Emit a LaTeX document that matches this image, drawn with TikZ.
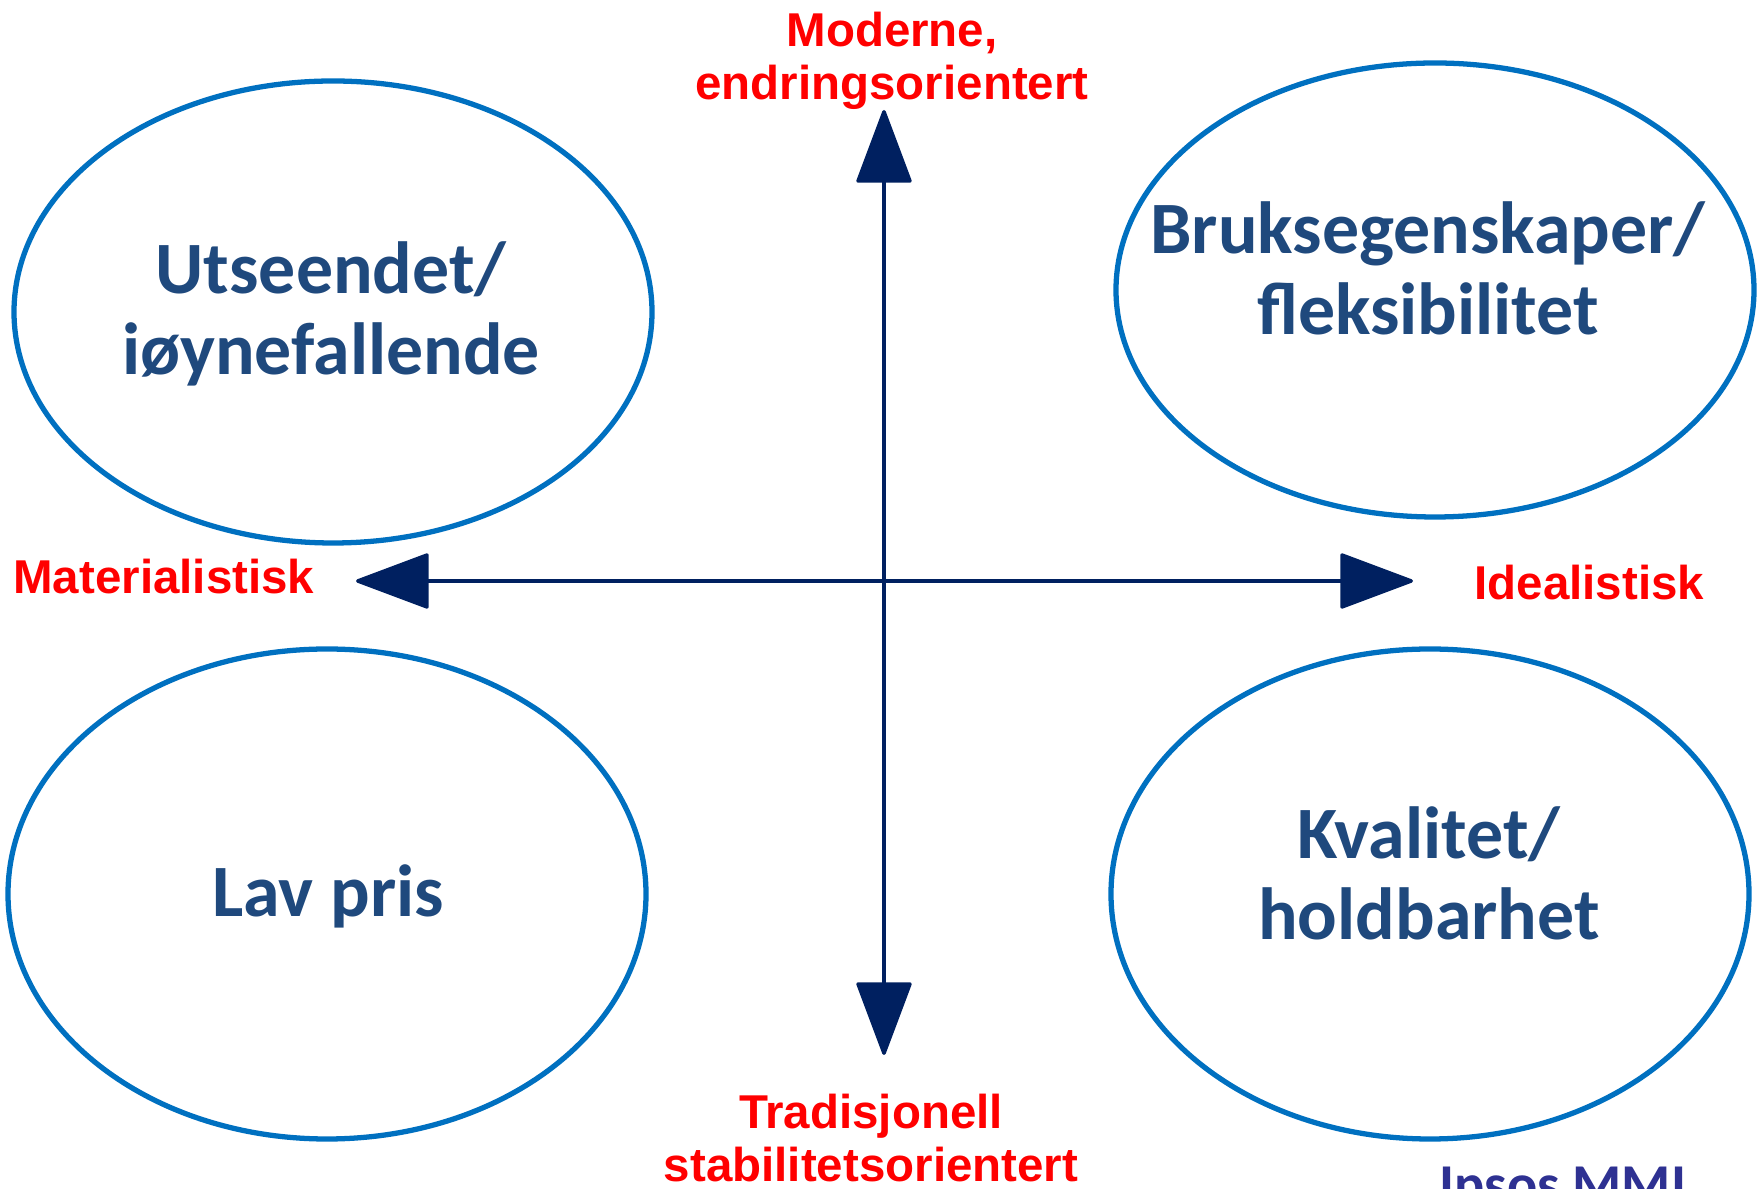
\documentclass[tikz,border=0pt]{standalone}
\usepackage{fontspec}
\setmainfont{Liberation Sans}
\newfontfamily\calfont{Carlito}
\usetikzlibrary{arrows.meta}
\definecolor{ringblue}{RGB}{0,112,192}
\definecolor{axisnavy}{RGB}{0,32,96}
\definecolor{quadtext}{RGB}{31,73,125}
\definecolor{ipsosblue}{RGB}{46,49,146}

\begin{document}
\begin{tikzpicture}[x=0.01cm, y=-0.01cm,
  ring/.style={draw=ringblue, line width=1.5pt},
  quad/.style={font=\calfont\bfseries\fontsize{21}{23}\selectfont, text=quadtext, align=center},
  pole/.style={font=\bfseries\fontsize{13.5}{15}\selectfont, text=red, align=center},
  axis/.style={draw=axisnavy, line width=1pt, -{Triangle[length=0.76cm, width=0.56cm, round]}}]
\useasboundingbox (0, 0) rectangle (1763, 1189);

\draw[ring] (333, 312) ellipse (319 and 231);
\draw[ring] (1435, 290) ellipse (319 and 227);
\draw[ring] (327, 894) ellipse (319 and 245);
\draw[ring] (1430, 894) ellipse (319 and 245);

\node[quad] (looks) at (331, 314) {Utseendet/\\iøynefallende};
\node[quad] (use) at (1428, 268) {Bruksegenskaper/\\fleksibilitet};
\node[quad] (price) at (328, 896) {Lav pris};
\node[quad] (quality) at (1429, 873) {Kvalitet/\\holdbarhet};

\coordinate (o) at (884, 581);
\coordinate (up) at (884, 110);
\coordinate (down) at (884, 1055);
\coordinate (left) at (356, 581);
\coordinate (right) at (1413, 581);
\draw[axis] (o) -- (up);
\draw[axis] (o) -- (down);
\draw[axis] (o) -- (left);
\draw[axis] (o) -- (right);

\node[pole] (modern) at (892, 61) {Moderne,\\endringsorientert};
\node[pole] (trad) at (871, 1138) {Tradisjonell\\stabilitetsorientert};
\node[pole, anchor=west] (mat) at (1, 577) {Materialistisk};
\node[pole, anchor=west] (ideal) at (1462, 583) {Idealistisk};

\node[font=\calfont\bfseries\fontsize{16}{18}\selectfont, text=ipsosblue, anchor=north, inner sep=0pt] (ipsos) at (1563, 1166) {Ipsos MMI};
\end{tikzpicture}
\end{document}
